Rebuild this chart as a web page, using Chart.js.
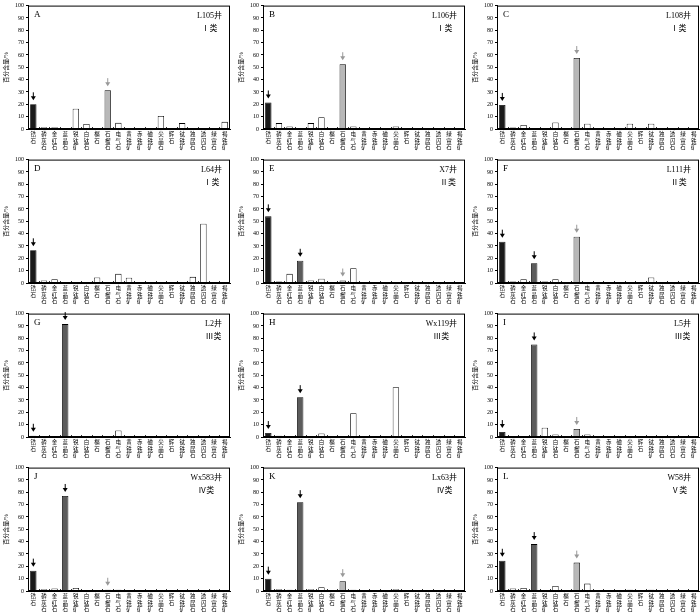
<!DOCTYPE html>
<html>
<head>
<meta charset="utf-8">
<script src="https://cdn.jsdelivr.net/npm/chart.js@4.4.1/dist/chart.umd.min.js"></script>
<style>
  html, body { margin: 0; padding: 0; background: #fff; overflow: hidden; }
  #page { position: relative; width: 700px; height: 615px; }
  #page canvas { position: absolute; }
</style>
</head>
<body>
<div id="page"></div>
<script>
// heavy mineral categories (x axis)
const minerals = ["锆石", "磷灰石", "金红石", "蓝晶石", "锐钛矿", "白钛石", "榍石", "石榴石", "电气石",
  "黄铁矿", "赤铁矿", "磁铁矿", "尖晶石", "辉石", "钛铁矿", "独居石", "透闪石", "绿帘石", "褐铁矿"];

// percentage content per well
const wellA = [20, 1.5, 1.5, 0, 16.5, 4, 0, 31.5, 5, 0, 0, 0, 10.5, 0, 4.8, 0, 0, 0, 5.8];
const wellB = [21.5, 4.8, 2, 0, 4.8, 9.5, 0, 52.5, 2, 0, 0, 0, 2, 0, 0, 0, 0, 0, 0];
const wellC = [19.5, 1.3, 3.2, 0, 0, 5.3, 0, 57.5, 4.2, 0, 0, 0, 4.2, 0, 4.2, 0, 0, 0, 0];
const wellD = [26.5, 2, 3, 0, 0, 0, 4.5, 0, 7.4, 4.2, 0, 0, 0, 0, 0, 5, 48, 0, 0];
const wellE = [54, 1.3, 7.4, 18, 2, 3.4, 0, 2, 12, 0, 0, 0, 0.8, 0, 0.8, 0, 0, 0.5, 0];
const wellF = [33.5, 1.3, 3, 16, 1.3, 3, 0, 37.5, 0.8, 0, 0, 0, 0.8, 0, 4.5, 0, 0, 0, 0];
const wellG = [1, 0, 0.5, 91.5, 0.5, 0, 0, 0, 5.3, 0, 0, 0.5, 0, 0, 0, 0, 0, 0, 0];
const wellH = [3.2, 1, 0.5, 32.3, 0, 2.9, 0, 0, 19.3, 0.5, 0, 0, 40.3, 0, 0.5, 0, 0, 0, 0];
const wellI = [4, 0.5, 0.5, 75, 7.5, 2, 0, 6.5, 2, 0, 0, 0, 0.5, 0, 0.5, 0, 0, 0, 0];
const wellJ = [16.5, 1.5, 2, 77, 2.5, 0, 0, 1, 1, 0, 0, 0, 0.5, 0, 0, 0, 0, 0, 0];
const wellK = [10, 1.5, 1, 72, 1.5, 3, 0, 8, 1, 0, 0, 0, 1.5, 0, 0, 0, 0, 0, 0];
const wellL = [24.5, 2, 2.5, 38, 0, 4, 0, 23, 6, 0, 0, 0, 1, 0, 1, 0, 0, 0, 0];

const panelLetters = ["A", "B", "C", "D", "E", "F", "G", "H", "I", "J", "K", "L"];
const wellNames = ["L105井", "L106井", "L108井", "L64井", "X7井", "L111井", "L2井", "Wx119井", "L5井", "Wx583井", "Lx63井", "W58井"];
const wellClasses = ["Ⅰ类", "Ⅰ类", "Ⅰ类", "Ⅰ类", "Ⅱ类", "Ⅱ类", "Ⅲ类", "Ⅲ类", "Ⅲ类", "Ⅳ类", "Ⅳ类", "Ⅴ类"];
const wellValues = [wellA, wellB, wellC, wellD, wellE, wellF, wellG, wellH, wellI, wellJ, wellK, wellL];

const ZIRCON = 0, KYANITE = 3, GARNET = 7;
const SERIF = "'Liberation Serif', 'Noto Sans CJK SC', serif";

function barFill(i) {
  if (i === ZIRCON) return "#1a1a1a";
  if (i === KYANITE) return "#5c5c5c";
  if (i === GARNET) return "#b8b8b8";
  return "#ffffff";
}

function arrowColor(i) {
  if (i === ZIRCON || i === KYANITE) return "#000";
  if (i === GARNET) return "#999";
  return null;
}

// frame, inner ticks, arrows and labels inside the plot
const panelDecor = {
  id: "panelDecor",
  afterDatasetsDraw(chart, args, opts) {
    const ctx = chart.ctx;
    const a = chart.chartArea;
    const xs = chart.scales.x;
    const meta = chart.getDatasetMeta(0);
    ctx.save();

    ctx.strokeStyle = "#000";
    ctx.lineWidth = 0.8;
    for (let i = 1; i < minerals.length; i++) {
      const px = Math.round((xs.getPixelForValue(i - 1) + xs.getPixelForValue(i)) / 2) + 0.5;
      ctx.beginPath();
      ctx.moveTo(px, a.bottom);
      ctx.lineTo(px, a.bottom - 2);
      ctx.stroke();
    }

    meta.data.forEach((bar, i) => {
      const col = arrowColor(i);
      if (!col || !(chart.data.datasets[0].data[i] > 0)) return;
      const tip = bar.y - 4;
      ctx.fillStyle = col;
      ctx.strokeStyle = col;
      ctx.lineWidth = 1;
      ctx.beginPath();
      ctx.moveTo(bar.x, tip - 8);
      ctx.lineTo(bar.x, tip - 3);
      ctx.stroke();
      ctx.beginPath();
      ctx.moveTo(bar.x - 2.5, tip - 4);
      ctx.lineTo(bar.x + 2.5, tip - 4);
      ctx.lineTo(bar.x, tip);
      ctx.closePath();
      ctx.fill();
    });

    ctx.strokeStyle = "#000";
    ctx.lineWidth = 1;
    ctx.strokeRect(a.left + 0.5, a.top + 0.5, a.width - 1, a.height - 1);

    ctx.fillStyle = "#000";
    ctx.textBaseline = "alphabetic";
    ctx.font = "9px " + SERIF;
    ctx.textAlign = "left";
    ctx.fillText(opts.letter, a.left + 6, a.top + 11);

    ctx.font = "8px " + SERIF;
    ctx.textAlign = "right";
    const rx = a.right - 8;
    ctx.fillText(opts.well, rx, a.top + 12);
    const w = ctx.measureText(opts.well).width;
    ctx.textAlign = "center";
    ctx.fillText(opts.cls, rx - w / 2, a.top + 25);
    ctx.restore();
  }
};

const colLeft = [0, 235, 469];
const rowTop = [0, 154, 308, 462];
const page = document.getElementById("page");

wellValues.forEach((values, p) => {
  const canvas = document.createElement("canvas");
  canvas.width = 232;
  canvas.height = 154;
  canvas.style.left = colLeft[p % 3] + "px";
  canvas.style.top = rowTop[Math.floor(p / 3)] + "px";
  page.appendChild(canvas);

  new Chart(canvas, {
    type: "bar",
    data: {
      labels: minerals.map(m => m.split("")),
      datasets: [{
        data: values,
        backgroundColor: minerals.map((m, i) => barFill(i)),
        borderColor: "#000",
        borderWidth: 0.8,
        barPercentage: 0.6,
        categoryPercentage: 1,
      }],
    },
    options: {
      responsive: false,
      animation: false,
      layout: { padding: { top: 3, right: 2, left: 0, bottom: 0 } },
      plugins: {
        legend: { display: false },
        tooltip: { enabled: false },
        panelDecor: { letter: panelLetters[p], well: wellNames[p], cls: wellClasses[p] },
      },
      scales: {
        x: {
          ticks: {
            autoSkip: false,
            maxRotation: 0,
            minRotation: 0,
            padding: 3,
            color: "#000",
            font: { size: 5.5, family: SERIF, lineHeight: 1.1 },
          },
          grid: { display: false, drawTicks: false },
          border: { display: true, color: "#000" },
          afterFit: function (s) { s.height = 25; },
        },
        y: {
          min: 0,
          max: 100,
          ticks: { stepSize: 10, padding: 2, color: "#000", font: { size: 6, family: SERIF } },
          grid: { drawOnChartArea: false, tickLength: 2, color: "#000" },
          border: { color: "#000" },
          title: {
            display: true,
            text: "百分含量/%",
            color: "#000",
            font: { size: 6, family: SERIF },
            padding: { top: 3, bottom: 0 },
          },
          afterFit: function (s) { s.width = 28; },
        },
      },
    },
    plugins: [panelDecor],
  });
});
</script>
</body>
</html>
